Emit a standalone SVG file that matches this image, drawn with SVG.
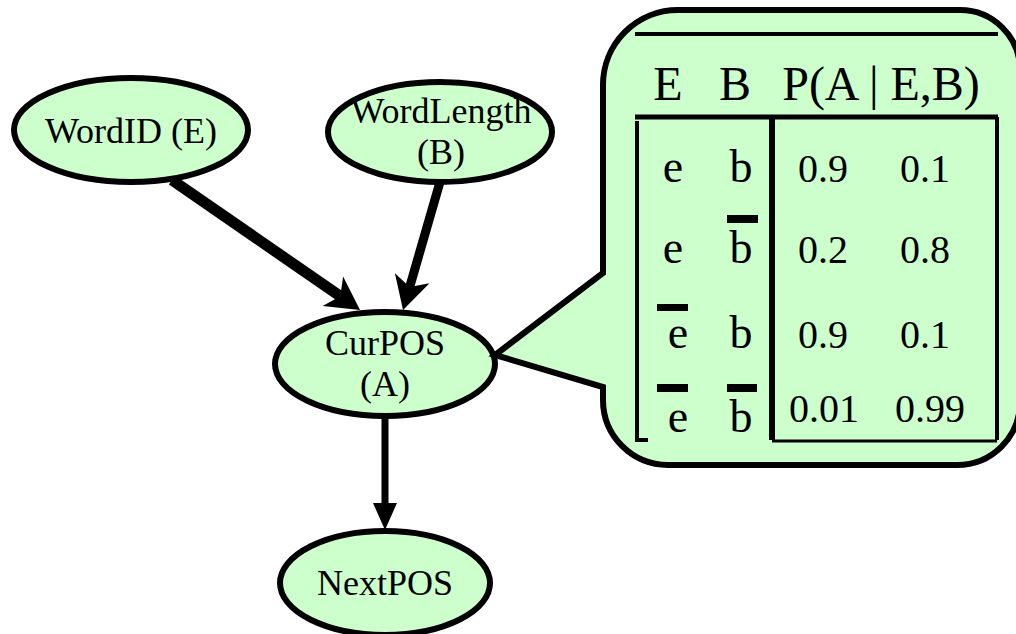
<svg xmlns="http://www.w3.org/2000/svg" width="1016" height="634" viewBox="0 0 1016 634">
<style>
.node{fill:#CCFFCC;stroke:#000;stroke-width:6}
.lbl{font-family:"Liberation Serif","Times New Roman",serif;font-size:36px;fill:#000;text-anchor:middle}
.conn{stroke:#000;fill:none}
.hdr{font-family:"Liberation Serif","Times New Roman",serif;font-size:48px;fill:#000}
.var{font-family:"Liberation Serif","Times New Roman",serif;font-size:46px;fill:#000;text-anchor:middle}
.val{font-family:"Liberation Serif","Times New Roman",serif;font-size:40px;fill:#000}
.tl{stroke:#000;fill:none}
</style>
<defs>
<marker id="headL" markerUnits="userSpaceOnUse" viewBox="-34 -19 36 38" markerWidth="36" markerHeight="38" refX="-24" refY="0" orient="auto">
<path d="M0,0 L-33,-18 L-24,0 L-33,18 Z" fill="#000"/>
</marker>
<marker id="headS" markerUnits="userSpaceOnUse" viewBox="-28 -13 30 26" markerWidth="30" markerHeight="26" refX="-24" refY="0" orient="auto">
<path d="M0,0 L-27,-12 L-27,12 Z" fill="#000"/>
</marker>
</defs>

<g id="connectors">
<line class="conn" x1="172" y1="180" x2="340.3" y2="296.3" stroke-width="11" marker-end="url(#headL)"/>
<line class="conn" x1="440" y1="182" x2="409.7" y2="286.9" stroke-width="9" marker-end="url(#headL)"/>
<line class="conn" x1="385" y1="417" x2="385" y2="506" stroke-width="7" marker-end="url(#headS)"/>
</g>

<g id="node-wordid">
<ellipse class="node" cx="131" cy="130" rx="117" ry="52"/>
<text class="lbl" x="131" y="143">WordID (E)</text>
</g>
<g id="node-wordlength">
<ellipse class="node" cx="440" cy="132" rx="112" ry="50"/>
<text class="lbl" x="441" y="123">WordLength</text>
<text class="lbl" x="441" y="164">(B)</text>
</g>
<g id="node-curpos">
<ellipse class="node" cx="385" cy="364" rx="110" ry="52"/>
<text class="lbl" x="385" y="355">CurPOS</text>
<text class="lbl" x="385" y="396">(A)</text>
</g>
<g id="node-nextpos">
<ellipse class="node" cx="385" cy="583" rx="105" ry="52"/>
<text class="lbl" x="385" y="595">NextPOS</text>
</g>

<g id="cpt-callout">
<path class="node" d="M678,10 H960 A60,60 0 0 1 1020,70 V402 A63,63 0 0 1 957,465 H668 A65,65 0 0 1 603,400 V387 L495,355 L603,273 V85 A75,75 0 0 1 678,10 Z"/>
<line class="tl" x1="635" y1="34" x2="998" y2="34" stroke-width="4"/>
<line class="tl" x1="635" y1="117" x2="998" y2="117" stroke-width="5"/>
<path class="tl" d="M637,121 V440 H648" stroke-width="4"/>
<line class="tl" x1="772" y1="117" x2="772" y2="440" stroke-width="6"/>
<line class="tl" x1="997" y1="117" x2="997" y2="440" stroke-width="4"/>
<line class="tl" x1="772" y1="441" x2="997" y2="441" stroke-width="3"/>

<text class="hdr" x="668" y="100" text-anchor="middle">E</text>
<text class="hdr" x="735" y="100" text-anchor="middle">B</text>
<text class="hdr" x="881" y="100" text-anchor="middle">P(A | E,B)</text>

<text class="var" x="673" y="182">e</text>
<text class="var" x="741" y="182">b</text>
<text class="val" x="798" y="182">0.9</text>
<text class="val" x="900" y="182">0.1</text>

<text class="var" x="673" y="263">e</text>
<rect x="727" y="215" width="31" height="8" fill="#000"/>
<text class="var" x="741" y="263">b</text>
<text class="val" x="798" y="263">0.2</text>
<text class="val" x="900" y="263">0.8</text>

<rect x="657" y="304" width="31" height="7" fill="#000"/>
<text class="var" x="678" y="348">e</text>
<text class="var" x="741" y="348">b</text>
<text class="val" x="798" y="348">0.9</text>
<text class="val" x="900" y="348">0.1</text>

<rect x="657" y="384" width="31" height="8" fill="#000"/>
<rect x="727" y="384" width="30" height="8" fill="#000"/>
<text class="var" x="678" y="432">e</text>
<text class="var" x="741" y="432">b</text>
<text class="val" x="789" y="422">0.01</text>
<text class="val" x="895" y="422">0.99</text>
</g>
</svg>
